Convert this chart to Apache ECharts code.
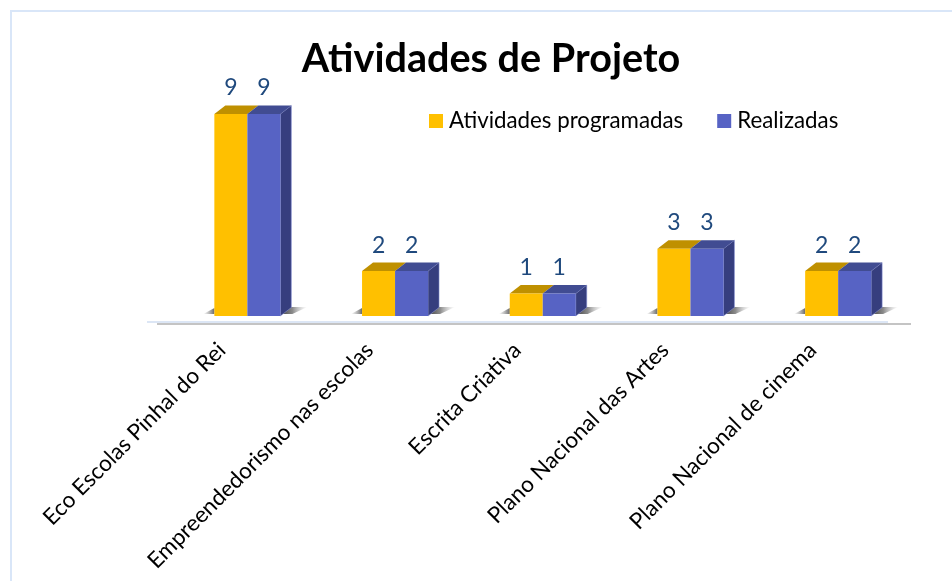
<!DOCTYPE html>
<html><head><meta charset="utf-8">
<style>html,body{margin:0;padding:0;background:#fff}#c{width:952px;height:581px}</style>
<script src="https://cdn.jsdelivr.net/npm/echarts@6/dist/echarts.min.js"></script>
</head><body><div id="c"></div>
<script>
const categories = ['Eco Escolas Pinhal do Rei','Empreendedorismo nas escolas','Escrita Criativa','Plano Nacional das Artes','Plano Nacional de cinema'];
const programadas = [9,2,1,3,2];
const realizadas = [9,2,1,3,2];
const FONT = 'Lato';
const BAR = 33, DX = 11, DY = 8.5;

function box(colors, side){
  return function(params, api){
    const idx = api.value(0), v = api.value(1);
    const top = api.coord([idx, v]);
    const base = api.coord([idx, 0]);
    const x0 = side === 0 ? top[0]-BAR : top[0];
    const x1 = x0 + BAR, y0 = top[1], y1 = base[1];
    const ch = [];
    if(side === 0){
      ch.push({type:'polygon',silent:true,shape:{points:[[x0-11,y1-2],[x0,y1-8],[x0,y1-2]]},
        style:{fill:{type:'linear',x:0,y:0,x2:1,y2:0,colorStops:[{offset:0,color:'rgba(120,120,120,0)'},{offset:1,color:'rgba(80,80,80,0.85)'}]}}});
    } else {
      ch.push({type:'polygon',silent:true,shape:{points:[[x1,y1-2],[x1+DX,y1-9],[x1+27,y1-9],[x1+12,y1-2]]},
        style:{fill:{type:'linear',x:0,y:0,x2:1,y2:0,colorStops:[{offset:0,color:'rgba(50,50,50,0.95)'},{offset:0.45,color:'rgba(90,90,90,0.7)'},{offset:1,color:'rgba(170,170,170,0)'}]}}});
      ch.push({type:'polygon',shape:{points:[[x1,y0],[x1+DX,y0-DY],[x1+DX,y1-DY],[x1,y1]]},style:{fill:colors.side,stroke:colors.edge,lineWidth:1}});
    }
    ch.push({type:'polygon',shape:{points:[[x0,y0],[x1,y0],[x1+DX,y0-DY],[x0+DX,y0-DY]]},style:{fill:colors.top}});
    ch.push({type:'rect',shape:{x:x0,y:y0,width:BAR,height:y1-y0},style:{fill:colors.front}});
    ch.push({type:'text',style:{text:String(v),x:(x0+x1)/2,y:y0-26,align:'center',verticalAlign:'middle',
      font:'23px '+FONT,fill:'#1F497D'}});
    return {type:'group',children:ch};
  };
}
function rows(vals){ return vals.map((v,i)=>[i,v]); }

const chart = echarts.init(document.getElementById('c'),null,{renderer:'canvas'});
chart.setOption({
  animation:false,
  backgroundColor:'#fff',
  title:{text:'Atividades de Projeto',left:486,top:34,textAlign:'center',
    textStyle:{fontFamily:FONT,fontWeight:'bold',fontSize:39.6,color:'#000'}},
  legend:{left:429,top:110,padding:0,itemWidth:14,itemHeight:14,itemGap:34,icon:'rect',
    textStyle:{fontFamily:FONT,fontSize:22.3,color:'#000',padding:[0,0,0,1]},
    data:['Atividades programadas','Realizadas']},
  grid:{left:173.5,right:40,top:91.6,height:224.4},
  xAxis:{type:'category',data:categories,axisLine:{show:false},axisTick:{show:false},
    axisLabel:{rotate:45,interval:0,margin:5,fontFamily:FONT,fontSize:22.5,color:'#000',padding:[0,36,0,0]}},
  yAxis:{type:'value',min:0,max:10,show:false},
  series:[
    {type:'custom',name:'Atividades programadas',color:'#FFC000',itemStyle:{color:'#FFC000'},data:rows(programadas),
     encode:{x:0,y:1},renderItem:box({front:'#FFC000',top:'#BF9000'},0)},
    {type:'custom',name:'Realizadas',color:'#5763C4',itemStyle:{color:'#5763C4'},data:rows(realizadas),
     encode:{x:0,y:1},renderItem:box({front:'#5763C4',top:'#414C92',side:'#363E7E',edge:'rgba(140,150,215,0.55)'},1)}
  ],
  graphic:[
    {type:'rect',silent:true,shape:{x:10,y:10,width:942,height:2},style:{fill:'#D9E6F8'}},
    {type:'rect',silent:true,shape:{x:10,y:10,width:2,height:571},style:{fill:'#D9E6F8'}},
    {type:'rect',silent:true,shape:{x:147,y:321,width:741,height:2},style:{fill:'#DCE6F5'}},
    {type:'rect',silent:true,shape:{x:157,y:323,width:754,height:2},style:{fill:'#C4C4C4'}}
  ]
});
</script></body></html>
